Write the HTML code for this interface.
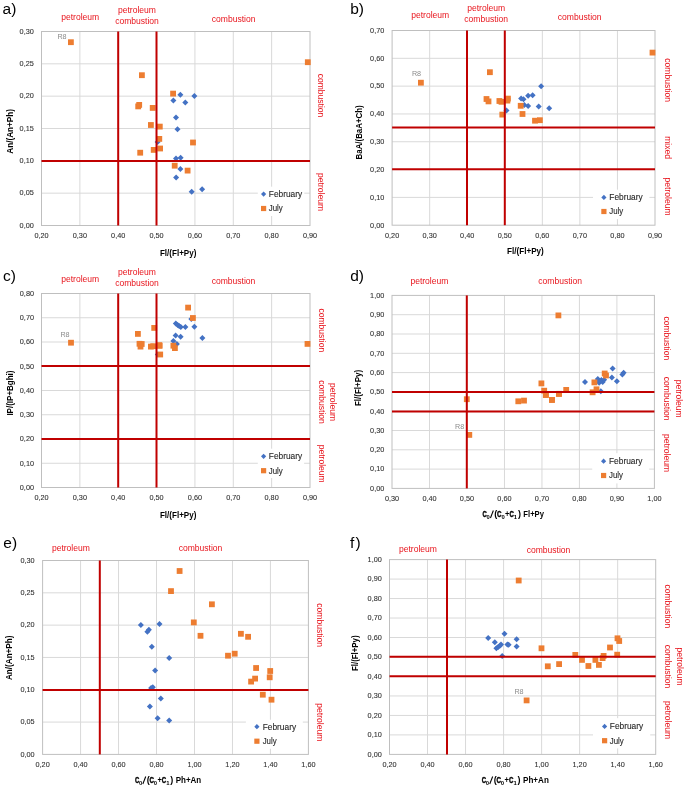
<!DOCTYPE html>
<html><head><meta charset="utf-8"><style>
html,body{margin:0;padding:0;background:#fff;width:685px;height:787px;overflow:hidden;}
svg{display:block;font-family:"Liberation Sans", sans-serif;will-change:transform;}
</style></head><body>
<svg width="685" height="787" viewBox="0 0 685 787">
<g stroke="#D9D9D9" stroke-width="1"><line x1="79.86" y1="31.5" x2="79.86" y2="225.5"/><line x1="118.21" y1="31.5" x2="118.21" y2="225.5"/><line x1="156.57" y1="31.5" x2="156.57" y2="225.5"/><line x1="194.93" y1="31.5" x2="194.93" y2="225.5"/><line x1="233.29" y1="31.5" x2="233.29" y2="225.5"/><line x1="271.64" y1="31.5" x2="271.64" y2="225.5"/><line x1="41.5" y1="193.17" x2="310.0" y2="193.17"/><line x1="41.5" y1="160.83" x2="310.0" y2="160.83"/><line x1="41.5" y1="128.50" x2="310.0" y2="128.50"/><line x1="41.5" y1="96.17" x2="310.0" y2="96.17"/><line x1="41.5" y1="63.83" x2="310.0" y2="63.83"/></g>
<rect x="41.5" y="31.5" width="268.50" height="194.00" fill="none" stroke="#BFBFBF" stroke-width="1"/>
<rect x="257.8" y="186.7" width="46.50" height="29.30" fill="#fff"/>
<path d="M180.40 91.80L183.40 94.80L180.40 97.80L177.40 94.80Z" fill="#4472C4"/><path d="M194.40 92.90L197.40 95.90L194.40 98.90L191.40 95.90Z" fill="#4472C4"/><path d="M173.40 97.60L176.40 100.60L173.40 103.60L170.40 100.60Z" fill="#4472C4"/><path d="M185.30 99.60L188.30 102.60L185.30 105.60L182.30 102.60Z" fill="#4472C4"/><path d="M176.00 114.50L179.00 117.50L176.00 120.50L173.00 117.50Z" fill="#4472C4"/><path d="M177.50 126.20L180.50 129.20L177.50 132.20L174.50 129.20Z" fill="#4472C4"/><path d="M157.60 139.00L160.60 142.00L157.60 145.00L154.60 142.00Z" fill="#4472C4"/><path d="M176.00 155.50L179.00 158.50L176.00 161.50L173.00 158.50Z" fill="#4472C4"/><path d="M180.60 154.80L183.60 157.80L180.60 160.80L177.60 157.80Z" fill="#4472C4"/><path d="M180.40 166.10L183.40 169.10L180.40 172.10L177.40 169.10Z" fill="#4472C4"/><path d="M176.10 174.60L179.10 177.60L176.10 180.60L173.10 177.60Z" fill="#4472C4"/><path d="M191.70 188.70L194.70 191.70L191.70 194.70L188.70 191.70Z" fill="#4472C4"/><path d="M202.10 186.20L205.10 189.20L202.10 192.20L199.10 189.20Z" fill="#4472C4"/>
<rect x="68.00" y="39.30" width="5.8" height="5.8" fill="#ED7D31"/><rect x="304.90" y="59.30" width="5.8" height="5.8" fill="#ED7D31"/><rect x="139.00" y="72.30" width="5.8" height="5.8" fill="#ED7D31"/><rect x="170.20" y="90.70" width="5.8" height="5.8" fill="#ED7D31"/><rect x="135.30" y="103.50" width="5.8" height="5.8" fill="#ED7D31"/><rect x="136.30" y="102.00" width="5.8" height="5.8" fill="#ED7D31"/><rect x="149.80" y="105.00" width="5.8" height="5.8" fill="#ED7D31"/><rect x="148.00" y="122.10" width="5.8" height="5.8" fill="#ED7D31"/><rect x="156.90" y="123.70" width="5.8" height="5.8" fill="#ED7D31"/><rect x="156.40" y="136.00" width="5.8" height="5.8" fill="#ED7D31"/><rect x="190.10" y="139.60" width="5.8" height="5.8" fill="#ED7D31"/><rect x="137.30" y="149.80" width="5.8" height="5.8" fill="#ED7D31"/><rect x="150.80" y="147.00" width="5.8" height="5.8" fill="#ED7D31"/><rect x="157.20" y="145.60" width="5.8" height="5.8" fill="#ED7D31"/><rect x="171.80" y="162.80" width="5.8" height="5.8" fill="#ED7D31"/><rect x="184.70" y="167.70" width="5.8" height="5.8" fill="#ED7D31"/>
<g stroke="#C00000" stroke-width="2"><line x1="118.2" y1="31.5" x2="118.2" y2="225.5"/><line x1="156.5" y1="31.5" x2="156.5" y2="225.5"/><line x1="41.5" y1="161.0" x2="310.0" y2="161.0"/></g>
<g font-size="8.0" fill="#303030" stroke="#303030" stroke-width="0.1"><text x="41.50" y="237.7" text-anchor="middle" textLength="14.2" lengthAdjust="spacingAndGlyphs">0,20</text><text x="79.86" y="237.7" text-anchor="middle" textLength="14.2" lengthAdjust="spacingAndGlyphs">0,30</text><text x="118.21" y="237.7" text-anchor="middle" textLength="14.2" lengthAdjust="spacingAndGlyphs">0,40</text><text x="156.57" y="237.7" text-anchor="middle" textLength="14.2" lengthAdjust="spacingAndGlyphs">0,50</text><text x="194.93" y="237.7" text-anchor="middle" textLength="14.2" lengthAdjust="spacingAndGlyphs">0,60</text><text x="233.29" y="237.7" text-anchor="middle" textLength="14.2" lengthAdjust="spacingAndGlyphs">0,70</text><text x="271.64" y="237.7" text-anchor="middle" textLength="14.2" lengthAdjust="spacingAndGlyphs">0,80</text><text x="310.00" y="237.7" text-anchor="middle" textLength="14.2" lengthAdjust="spacingAndGlyphs">0,90</text><text x="33.8" y="227.80" text-anchor="end" textLength="14.2" lengthAdjust="spacingAndGlyphs">0,00</text><text x="33.8" y="195.47" text-anchor="end" textLength="14.2" lengthAdjust="spacingAndGlyphs">0,05</text><text x="33.8" y="163.13" text-anchor="end" textLength="14.2" lengthAdjust="spacingAndGlyphs">0,10</text><text x="33.8" y="130.80" text-anchor="end" textLength="14.2" lengthAdjust="spacingAndGlyphs">0,15</text><text x="33.8" y="98.47" text-anchor="end" textLength="14.2" lengthAdjust="spacingAndGlyphs">0,20</text><text x="33.8" y="66.13" text-anchor="end" textLength="14.2" lengthAdjust="spacingAndGlyphs">0,25</text><text x="33.8" y="33.80" text-anchor="end" textLength="14.2" lengthAdjust="spacingAndGlyphs">0,30</text></g>
<path d="M263.60 191.50L266.20 194.10L263.60 196.70L261.00 194.10Z" fill="#4472C4"/><rect x="261.00" y="205.90" width="5.2" height="5.2" fill="#ED7D31"/>
<g font-size="8.8" fill="#262626" stroke="#262626" stroke-width="0.1"><text x="268.8" y="197.00" textLength="33.4" lengthAdjust="spacingAndGlyphs">February</text><text x="268.8" y="211.40" textLength="14.0" lengthAdjust="spacingAndGlyphs">July</text></g>
<text x="62.0" y="38.8" font-size="7.2" fill="#8c8c8c" text-anchor="middle">R8</text>
<text x="2.6" y="14.1" font-size="15.5" fill="#000">a)</text>
<text x="80.2" y="19.8" font-size="8.55" fill="#E8141C" text-anchor="middle">petroleum</text>
<text x="137.0" y="13.0" font-size="8.55" fill="#E8141C" text-anchor="middle">petroleum</text>
<text x="137.0" y="24.4" font-size="8.55" fill="#E8141C" text-anchor="middle">combustion</text>
<text x="233.6" y="21.5" font-size="8.55" fill="#E8141C" text-anchor="middle">combustion</text>
<text transform="translate(317.80,95.5) rotate(90)" font-size="8.55" fill="#E8141C" text-anchor="middle">combustion</text>
<text transform="translate(317.80,192.0) rotate(90)" font-size="8.55" fill="#E8141C" text-anchor="middle">petroleum</text>
<text transform="translate(12.90,131.35) rotate(-90)" font-size="9.0" font-weight="bold" fill="#000" text-anchor="middle" textLength="44.7" lengthAdjust="spacingAndGlyphs">An/(An+Ph)</text>
<text x="159.9" y="255.8" font-size="9.0" font-weight="bold" fill="#000" textLength="36.5" lengthAdjust="spacingAndGlyphs">Fl/(Fl+Py)</text>
<g stroke="#D9D9D9" stroke-width="1"><line x1="429.66" y1="30.5" x2="429.66" y2="225.2"/><line x1="467.21" y1="30.5" x2="467.21" y2="225.2"/><line x1="504.77" y1="30.5" x2="504.77" y2="225.2"/><line x1="542.33" y1="30.5" x2="542.33" y2="225.2"/><line x1="579.89" y1="30.5" x2="579.89" y2="225.2"/><line x1="617.44" y1="30.5" x2="617.44" y2="225.2"/><line x1="392.1" y1="197.39" x2="655.0" y2="197.39"/><line x1="392.1" y1="169.57" x2="655.0" y2="169.57"/><line x1="392.1" y1="141.76" x2="655.0" y2="141.76"/><line x1="392.1" y1="113.94" x2="655.0" y2="113.94"/><line x1="392.1" y1="86.13" x2="655.0" y2="86.13"/><line x1="392.1" y1="58.31" x2="655.0" y2="58.31"/></g>
<rect x="392.1" y="30.5" width="262.90" height="194.70" fill="none" stroke="#BFBFBF" stroke-width="1"/>
<rect x="593.0" y="189.7" width="56.40" height="29.30" fill="#fff"/>
<path d="M541.10 83.20L544.10 86.20L541.10 89.20L538.10 86.20Z" fill="#4472C4"/><path d="M528.10 92.70L531.10 95.70L528.10 98.70L525.10 95.70Z" fill="#4472C4"/><path d="M532.60 92.20L535.60 95.20L532.60 98.20L529.60 95.20Z" fill="#4472C4"/><path d="M521.10 95.50L524.10 98.50L521.10 101.50L518.10 98.50Z" fill="#4472C4"/><path d="M523.50 96.30L526.50 99.30L523.50 102.30L520.50 99.30Z" fill="#4472C4"/><path d="M524.30 102.00L527.30 105.00L524.30 108.00L521.30 105.00Z" fill="#4472C4"/><path d="M528.10 102.90L531.10 105.90L528.10 108.90L525.10 105.90Z" fill="#4472C4"/><path d="M538.70 103.60L541.70 106.60L538.70 109.60L535.70 106.60Z" fill="#4472C4"/><path d="M549.20 105.30L552.20 108.30L549.20 111.30L546.20 108.30Z" fill="#4472C4"/><path d="M506.50 107.40L509.50 110.40L506.50 113.40L503.50 110.40Z" fill="#4472C4"/>
<rect x="418.00" y="79.80" width="5.8" height="5.8" fill="#ED7D31"/><rect x="649.60" y="49.70" width="5.8" height="5.8" fill="#ED7D31"/><rect x="487.00" y="69.30" width="5.8" height="5.8" fill="#ED7D31"/><rect x="483.60" y="96.10" width="5.8" height="5.8" fill="#ED7D31"/><rect x="485.60" y="98.50" width="5.8" height="5.8" fill="#ED7D31"/><rect x="496.50" y="98.10" width="5.8" height="5.8" fill="#ED7D31"/><rect x="498.60" y="98.90" width="5.8" height="5.8" fill="#ED7D31"/><rect x="505.00" y="95.70" width="5.8" height="5.8" fill="#ED7D31"/><rect x="504.50" y="97.70" width="5.8" height="5.8" fill="#ED7D31"/><rect x="499.40" y="111.70" width="5.8" height="5.8" fill="#ED7D31"/><rect x="517.80" y="102.90" width="5.8" height="5.8" fill="#ED7D31"/><rect x="519.60" y="111.10" width="5.8" height="5.8" fill="#ED7D31"/><rect x="532.10" y="117.80" width="5.8" height="5.8" fill="#ED7D31"/><rect x="537.00" y="117.30" width="5.8" height="5.8" fill="#ED7D31"/>
<g stroke="#C00000" stroke-width="2"><line x1="467.0" y1="30.5" x2="467.0" y2="225.2"/><line x1="504.8" y1="30.5" x2="504.8" y2="225.2"/><line x1="392.1" y1="127.6" x2="655.0" y2="127.6"/><line x1="392.1" y1="169.2" x2="655.0" y2="169.2"/></g>
<g font-size="8.0" fill="#303030" stroke="#303030" stroke-width="0.1"><text x="392.10" y="237.7" text-anchor="middle" textLength="14.2" lengthAdjust="spacingAndGlyphs">0,20</text><text x="429.66" y="237.7" text-anchor="middle" textLength="14.2" lengthAdjust="spacingAndGlyphs">0,30</text><text x="467.21" y="237.7" text-anchor="middle" textLength="14.2" lengthAdjust="spacingAndGlyphs">0,40</text><text x="504.77" y="237.7" text-anchor="middle" textLength="14.2" lengthAdjust="spacingAndGlyphs">0,50</text><text x="542.33" y="237.7" text-anchor="middle" textLength="14.2" lengthAdjust="spacingAndGlyphs">0,60</text><text x="579.89" y="237.7" text-anchor="middle" textLength="14.2" lengthAdjust="spacingAndGlyphs">0,70</text><text x="617.44" y="237.7" text-anchor="middle" textLength="14.2" lengthAdjust="spacingAndGlyphs">0,80</text><text x="655.00" y="237.7" text-anchor="middle" textLength="14.2" lengthAdjust="spacingAndGlyphs">0,90</text><text x="384.3" y="227.50" text-anchor="end" textLength="14.2" lengthAdjust="spacingAndGlyphs">0,00</text><text x="384.3" y="199.69" text-anchor="end" textLength="14.2" lengthAdjust="spacingAndGlyphs">0,10</text><text x="384.3" y="171.87" text-anchor="end" textLength="14.2" lengthAdjust="spacingAndGlyphs">0,20</text><text x="384.3" y="144.06" text-anchor="end" textLength="14.2" lengthAdjust="spacingAndGlyphs">0,30</text><text x="384.3" y="116.24" text-anchor="end" textLength="14.2" lengthAdjust="spacingAndGlyphs">0,40</text><text x="384.3" y="88.43" text-anchor="end" textLength="14.2" lengthAdjust="spacingAndGlyphs">0,50</text><text x="384.3" y="60.61" text-anchor="end" textLength="14.2" lengthAdjust="spacingAndGlyphs">0,60</text><text x="384.3" y="32.80" text-anchor="end" textLength="14.2" lengthAdjust="spacingAndGlyphs">0,70</text></g>
<path d="M603.90 194.80L606.50 197.40L603.90 200.00L601.30 197.40Z" fill="#4472C4"/><rect x="601.30" y="208.90" width="5.2" height="5.2" fill="#ED7D31"/>
<g font-size="8.8" fill="#262626" stroke="#262626" stroke-width="0.1"><text x="609.3" y="200.30" textLength="33.4" lengthAdjust="spacingAndGlyphs">February</text><text x="609.3" y="214.40" textLength="14.0" lengthAdjust="spacingAndGlyphs">July</text></g>
<text x="416.5" y="75.6" font-size="7.2" fill="#8c8c8c" text-anchor="middle">R8</text>
<text x="350.2" y="14.3" font-size="15.5" fill="#000">b)</text>
<text x="430.2" y="18.4" font-size="8.55" fill="#E8141C" text-anchor="middle">petroleum</text>
<text x="486.2" y="11.4" font-size="8.55" fill="#E8141C" text-anchor="middle">petroleum</text>
<text x="486.2" y="21.8" font-size="8.55" fill="#E8141C" text-anchor="middle">combustion</text>
<text x="579.7" y="20.4" font-size="8.55" fill="#E8141C" text-anchor="middle">combustion</text>
<text transform="translate(664.70,80.2) rotate(90)" font-size="8.55" fill="#E8141C" text-anchor="middle">combustion</text>
<text transform="translate(664.70,147.6) rotate(90)" font-size="8.55" fill="#E8141C" text-anchor="middle">mixed</text>
<text transform="translate(664.70,196.6) rotate(90)" font-size="8.55" fill="#E8141C" text-anchor="middle">petroleum</text>
<text transform="translate(361.60,132.40) rotate(-90)" font-size="9.0" font-weight="bold" fill="#000" text-anchor="middle" textLength="54.0" lengthAdjust="spacingAndGlyphs">BaA/(BaA+Ch)</text>
<text x="507.0" y="254.2" font-size="9.0" font-weight="bold" fill="#000" textLength="36.8" lengthAdjust="spacingAndGlyphs">Fl/(Fl+Py)</text>
<g stroke="#D9D9D9" stroke-width="1"><line x1="79.86" y1="293.5" x2="79.86" y2="487.5"/><line x1="118.21" y1="293.5" x2="118.21" y2="487.5"/><line x1="156.57" y1="293.5" x2="156.57" y2="487.5"/><line x1="194.93" y1="293.5" x2="194.93" y2="487.5"/><line x1="233.29" y1="293.5" x2="233.29" y2="487.5"/><line x1="271.64" y1="293.5" x2="271.64" y2="487.5"/><line x1="41.5" y1="463.25" x2="310.0" y2="463.25"/><line x1="41.5" y1="439.00" x2="310.0" y2="439.00"/><line x1="41.5" y1="414.75" x2="310.0" y2="414.75"/><line x1="41.5" y1="390.50" x2="310.0" y2="390.50"/><line x1="41.5" y1="366.25" x2="310.0" y2="366.25"/><line x1="41.5" y1="342.00" x2="310.0" y2="342.00"/><line x1="41.5" y1="317.75" x2="310.0" y2="317.75"/></g>
<rect x="41.5" y="293.5" width="268.50" height="194.00" fill="none" stroke="#BFBFBF" stroke-width="1"/>
<rect x="257.8" y="448.7" width="46.30" height="29.30" fill="#fff"/>
<path d="M175.80 320.40L178.80 323.40L175.80 326.40L172.80 323.40Z" fill="#4472C4"/><path d="M177.60 322.00L180.60 325.00L177.60 328.00L174.60 325.00Z" fill="#4472C4"/><path d="M179.10 322.90L182.10 325.90L179.10 328.90L176.10 325.90Z" fill="#4472C4"/><path d="M180.80 323.90L183.80 326.90L180.80 329.90L177.80 326.90Z" fill="#4472C4"/><path d="M185.40 324.10L188.40 327.10L185.40 330.10L182.40 327.10Z" fill="#4472C4"/><path d="M194.40 323.70L197.40 326.70L194.40 329.70L191.40 326.70Z" fill="#4472C4"/><path d="M191.30 316.00L194.30 319.00L191.30 322.00L188.30 319.00Z" fill="#4472C4"/><path d="M175.60 332.60L178.60 335.60L175.60 338.60L172.60 335.60Z" fill="#4472C4"/><path d="M180.60 333.70L183.60 336.70L180.60 339.70L177.60 336.70Z" fill="#4472C4"/><path d="M202.40 335.00L205.40 338.00L202.40 341.00L199.40 338.00Z" fill="#4472C4"/><path d="M173.40 338.10L176.40 341.10L173.40 344.10L170.40 341.10Z" fill="#4472C4"/><path d="M176.90 341.00L179.90 344.00L176.90 347.00L173.90 344.00Z" fill="#4472C4"/><path d="M157.80 351.40L160.80 354.40L157.80 357.40L154.80 354.40Z" fill="#4472C4"/>
<rect x="68.10" y="339.80" width="5.8" height="5.8" fill="#ED7D31"/><rect x="304.60" y="341.00" width="5.8" height="5.8" fill="#ED7D31"/><rect x="185.20" y="304.70" width="5.8" height="5.8" fill="#ED7D31"/><rect x="190.00" y="315.10" width="5.8" height="5.8" fill="#ED7D31"/><rect x="151.30" y="325.00" width="5.8" height="5.8" fill="#ED7D31"/><rect x="135.00" y="331.00" width="5.8" height="5.8" fill="#ED7D31"/><rect x="136.60" y="340.90" width="5.8" height="5.8" fill="#ED7D31"/><rect x="138.80" y="341.10" width="5.8" height="5.8" fill="#ED7D31"/><rect x="137.60" y="343.70" width="5.8" height="5.8" fill="#ED7D31"/><rect x="148.00" y="343.70" width="5.8" height="5.8" fill="#ED7D31"/><rect x="150.30" y="343.30" width="5.8" height="5.8" fill="#ED7D31"/><rect x="156.50" y="342.20" width="5.8" height="5.8" fill="#ED7D31"/><rect x="156.70" y="343.00" width="5.8" height="5.8" fill="#ED7D31"/><rect x="157.30" y="351.60" width="5.8" height="5.8" fill="#ED7D31"/><rect x="170.50" y="342.80" width="5.8" height="5.8" fill="#ED7D31"/><rect x="172.00" y="345.20" width="5.8" height="5.8" fill="#ED7D31"/>
<g stroke="#C00000" stroke-width="2"><line x1="118.2" y1="293.5" x2="118.2" y2="487.5"/><line x1="156.5" y1="293.5" x2="156.5" y2="487.5"/><line x1="41.5" y1="366.1" x2="310.0" y2="366.1"/><line x1="41.5" y1="439.0" x2="310.0" y2="439.0"/></g>
<g font-size="8.0" fill="#303030" stroke="#303030" stroke-width="0.1"><text x="41.50" y="500.0" text-anchor="middle" textLength="14.2" lengthAdjust="spacingAndGlyphs">0,20</text><text x="79.86" y="500.0" text-anchor="middle" textLength="14.2" lengthAdjust="spacingAndGlyphs">0,30</text><text x="118.21" y="500.0" text-anchor="middle" textLength="14.2" lengthAdjust="spacingAndGlyphs">0,40</text><text x="156.57" y="500.0" text-anchor="middle" textLength="14.2" lengthAdjust="spacingAndGlyphs">0,50</text><text x="194.93" y="500.0" text-anchor="middle" textLength="14.2" lengthAdjust="spacingAndGlyphs">0,60</text><text x="233.29" y="500.0" text-anchor="middle" textLength="14.2" lengthAdjust="spacingAndGlyphs">0,70</text><text x="271.64" y="500.0" text-anchor="middle" textLength="14.2" lengthAdjust="spacingAndGlyphs">0,80</text><text x="310.00" y="500.0" text-anchor="middle" textLength="14.2" lengthAdjust="spacingAndGlyphs">0,90</text><text x="34.0" y="489.80" text-anchor="end" textLength="14.2" lengthAdjust="spacingAndGlyphs">0,00</text><text x="34.0" y="465.55" text-anchor="end" textLength="14.2" lengthAdjust="spacingAndGlyphs">0,10</text><text x="34.0" y="441.30" text-anchor="end" textLength="14.2" lengthAdjust="spacingAndGlyphs">0,20</text><text x="34.0" y="417.05" text-anchor="end" textLength="14.2" lengthAdjust="spacingAndGlyphs">0,30</text><text x="34.0" y="392.80" text-anchor="end" textLength="14.2" lengthAdjust="spacingAndGlyphs">0,40</text><text x="34.0" y="368.55" text-anchor="end" textLength="14.2" lengthAdjust="spacingAndGlyphs">0,50</text><text x="34.0" y="344.30" text-anchor="end" textLength="14.2" lengthAdjust="spacingAndGlyphs">0,60</text><text x="34.0" y="320.05" text-anchor="end" textLength="14.2" lengthAdjust="spacingAndGlyphs">0,70</text><text x="34.0" y="295.80" text-anchor="end" textLength="14.2" lengthAdjust="spacingAndGlyphs">0,80</text></g>
<path d="M263.60 453.70L266.20 456.30L263.60 458.90L261.00 456.30Z" fill="#4472C4"/><rect x="261.00" y="468.10" width="5.2" height="5.2" fill="#ED7D31"/>
<g font-size="8.8" fill="#262626" stroke="#262626" stroke-width="0.1"><text x="268.8" y="459.20" textLength="33.4" lengthAdjust="spacingAndGlyphs">February</text><text x="268.8" y="473.60" textLength="14.0" lengthAdjust="spacingAndGlyphs">July</text></g>
<text x="65.0" y="337.0" font-size="7.2" fill="#8c8c8c" text-anchor="middle">R8</text>
<text x="2.9" y="281.0" font-size="15.5" fill="#000">c)</text>
<text x="80.2" y="282.2" font-size="8.55" fill="#E8141C" text-anchor="middle">petroleum</text>
<text x="137.0" y="274.9" font-size="8.55" fill="#E8141C" text-anchor="middle">petroleum</text>
<text x="137.0" y="285.6" font-size="8.55" fill="#E8141C" text-anchor="middle">combustion</text>
<text x="233.5" y="283.6" font-size="8.55" fill="#E8141C" text-anchor="middle">combustion</text>
<text transform="translate(318.50,330.3) rotate(90)" font-size="8.55" fill="#E8141C" text-anchor="middle">combustion</text>
<text transform="translate(330.00,402.0) rotate(90)" font-size="8.55" fill="#E8141C" text-anchor="middle">petroleum</text>
<text transform="translate(318.60,402.0) rotate(90)" font-size="8.55" fill="#E8141C" text-anchor="middle">combustion</text>
<text transform="translate(318.50,463.7) rotate(90)" font-size="8.55" fill="#E8141C" text-anchor="middle">petroleum</text>
<text transform="translate(13.10,393.05) rotate(-90)" font-size="9.0" font-weight="bold" fill="#000" text-anchor="middle" textLength="45.1" lengthAdjust="spacingAndGlyphs">IP/(IP+Bghi)</text>
<text x="159.9" y="518.0" font-size="9.0" font-weight="bold" fill="#000" textLength="36.5" lengthAdjust="spacingAndGlyphs">Fl/(Fl+Py)</text>
<g stroke="#D9D9D9" stroke-width="1"><line x1="429.49" y1="295.4" x2="429.49" y2="488.4"/><line x1="466.97" y1="295.4" x2="466.97" y2="488.4"/><line x1="504.46" y1="295.4" x2="504.46" y2="488.4"/><line x1="541.94" y1="295.4" x2="541.94" y2="488.4"/><line x1="579.43" y1="295.4" x2="579.43" y2="488.4"/><line x1="616.91" y1="295.4" x2="616.91" y2="488.4"/><line x1="392.0" y1="469.10" x2="654.4" y2="469.10"/><line x1="392.0" y1="449.80" x2="654.4" y2="449.80"/><line x1="392.0" y1="430.50" x2="654.4" y2="430.50"/><line x1="392.0" y1="411.20" x2="654.4" y2="411.20"/><line x1="392.0" y1="391.90" x2="654.4" y2="391.90"/><line x1="392.0" y1="372.60" x2="654.4" y2="372.60"/><line x1="392.0" y1="353.30" x2="654.4" y2="353.30"/><line x1="392.0" y1="334.00" x2="654.4" y2="334.00"/><line x1="392.0" y1="314.70" x2="654.4" y2="314.70"/></g>
<rect x="392.0" y="295.4" width="262.40" height="193.00" fill="none" stroke="#BFBFBF" stroke-width="1"/>
<rect x="592.2" y="453.2" width="57.00" height="30.20" fill="#fff"/>
<path d="M612.60 365.60L615.60 368.60L612.60 371.60L609.60 368.60Z" fill="#4472C4"/><path d="M611.90 374.50L614.90 377.50L611.90 380.50L608.90 377.50Z" fill="#4472C4"/><path d="M616.90 378.20L619.90 381.20L616.90 384.20L613.90 381.20Z" fill="#4472C4"/><path d="M622.40 371.40L625.40 374.40L622.40 377.40L619.40 374.40Z" fill="#4472C4"/><path d="M623.60 369.70L626.60 372.70L623.60 375.70L620.60 372.70Z" fill="#4472C4"/><path d="M585.00 378.90L588.00 381.90L585.00 384.90L582.00 381.90Z" fill="#4472C4"/><path d="M597.80 376.10L600.80 379.10L597.80 382.10L594.80 379.10Z" fill="#4472C4"/><path d="M599.10 379.70L602.10 382.70L599.10 385.70L596.10 382.70Z" fill="#4472C4"/><path d="M601.40 377.10L604.40 380.10L601.40 383.10L598.40 380.10Z" fill="#4472C4"/><path d="M602.70 379.10L605.70 382.10L602.70 385.10L599.70 382.10Z" fill="#4472C4"/><path d="M604.10 376.80L607.10 379.80L604.10 382.80L601.10 379.80Z" fill="#4472C4"/><path d="M599.80 378.40L602.80 381.40L599.80 384.40L596.80 381.40Z" fill="#4472C4"/><path d="M600.80 388.30L603.80 391.30L600.80 394.30L597.80 391.30Z" fill="#4472C4"/>
<rect x="555.50" y="312.50" width="5.8" height="5.8" fill="#ED7D31"/><rect x="538.50" y="380.50" width="5.8" height="5.8" fill="#ED7D31"/><rect x="541.30" y="387.80" width="5.8" height="5.8" fill="#ED7D31"/><rect x="542.90" y="392.10" width="5.8" height="5.8" fill="#ED7D31"/><rect x="549.00" y="397.00" width="5.8" height="5.8" fill="#ED7D31"/><rect x="556.00" y="391.00" width="5.8" height="5.8" fill="#ED7D31"/><rect x="563.30" y="387.00" width="5.8" height="5.8" fill="#ED7D31"/><rect x="589.70" y="389.40" width="5.8" height="5.8" fill="#ED7D31"/><rect x="591.50" y="379.50" width="5.8" height="5.8" fill="#ED7D31"/><rect x="593.60" y="386.40" width="5.8" height="5.8" fill="#ED7D31"/><rect x="601.80" y="370.60" width="5.8" height="5.8" fill="#ED7D31"/><rect x="603.10" y="372.60" width="5.8" height="5.8" fill="#ED7D31"/><rect x="463.90" y="396.30" width="5.8" height="5.8" fill="#ED7D31"/><rect x="466.40" y="432.00" width="5.8" height="5.8" fill="#ED7D31"/><rect x="515.40" y="398.40" width="5.8" height="5.8" fill="#ED7D31"/><rect x="521.10" y="397.70" width="5.8" height="5.8" fill="#ED7D31"/><rect x="543.00" y="392.00" width="5.8" height="5.8" fill="#ED7D31"/><rect x="549.10" y="397.00" width="5.8" height="5.8" fill="#ED7D31"/><rect x="556.20" y="390.90" width="5.8" height="5.8" fill="#ED7D31"/>
<g stroke="#C00000" stroke-width="2"><line x1="466.8" y1="295.4" x2="466.8" y2="488.4"/><line x1="392.0" y1="391.9" x2="654.4" y2="391.9"/><line x1="392.0" y1="411.5" x2="654.4" y2="411.5"/></g>
<g font-size="8.0" fill="#303030" stroke="#303030" stroke-width="0.1"><text x="392.00" y="501.4" text-anchor="middle" textLength="14.2" lengthAdjust="spacingAndGlyphs">0,30</text><text x="429.49" y="501.4" text-anchor="middle" textLength="14.2" lengthAdjust="spacingAndGlyphs">0,40</text><text x="466.97" y="501.4" text-anchor="middle" textLength="14.2" lengthAdjust="spacingAndGlyphs">0,50</text><text x="504.46" y="501.4" text-anchor="middle" textLength="14.2" lengthAdjust="spacingAndGlyphs">0,60</text><text x="541.94" y="501.4" text-anchor="middle" textLength="14.2" lengthAdjust="spacingAndGlyphs">0,70</text><text x="579.43" y="501.4" text-anchor="middle" textLength="14.2" lengthAdjust="spacingAndGlyphs">0,80</text><text x="616.91" y="501.4" text-anchor="middle" textLength="14.2" lengthAdjust="spacingAndGlyphs">0,90</text><text x="654.40" y="501.4" text-anchor="middle" textLength="14.2" lengthAdjust="spacingAndGlyphs">1,00</text><text x="384.3" y="490.70" text-anchor="end" textLength="14.2" lengthAdjust="spacingAndGlyphs">0,00</text><text x="384.3" y="471.40" text-anchor="end" textLength="14.2" lengthAdjust="spacingAndGlyphs">0,10</text><text x="384.3" y="452.10" text-anchor="end" textLength="14.2" lengthAdjust="spacingAndGlyphs">0,20</text><text x="384.3" y="432.80" text-anchor="end" textLength="14.2" lengthAdjust="spacingAndGlyphs">0,30</text><text x="384.3" y="413.50" text-anchor="end" textLength="14.2" lengthAdjust="spacingAndGlyphs">0,40</text><text x="384.3" y="394.20" text-anchor="end" textLength="14.2" lengthAdjust="spacingAndGlyphs">0,50</text><text x="384.3" y="374.90" text-anchor="end" textLength="14.2" lengthAdjust="spacingAndGlyphs">0,60</text><text x="384.3" y="355.60" text-anchor="end" textLength="14.2" lengthAdjust="spacingAndGlyphs">0,70</text><text x="384.3" y="336.30" text-anchor="end" textLength="14.2" lengthAdjust="spacingAndGlyphs">0,80</text><text x="384.3" y="317.00" text-anchor="end" textLength="14.2" lengthAdjust="spacingAndGlyphs">0,90</text><text x="384.3" y="297.70" text-anchor="end" textLength="14.2" lengthAdjust="spacingAndGlyphs">1,00</text></g>
<path d="M603.60 458.60L606.20 461.20L603.60 463.80L601.00 461.20Z" fill="#4472C4"/><rect x="601.00" y="472.90" width="5.2" height="5.2" fill="#ED7D31"/>
<g font-size="8.8" fill="#262626" stroke="#262626" stroke-width="0.1"><text x="609.0" y="464.10" textLength="33.4" lengthAdjust="spacingAndGlyphs">February</text><text x="609.0" y="478.40" textLength="14.0" lengthAdjust="spacingAndGlyphs">July</text></g>
<text x="459.7" y="429.0" font-size="7.2" fill="#8c8c8c" text-anchor="middle">R8</text>
<text x="350.2" y="281.0" font-size="15.5" fill="#000">d)</text>
<text x="429.4" y="283.8" font-size="8.55" fill="#E8141C" text-anchor="middle">petroleum</text>
<text x="560.1" y="284.2" font-size="8.55" fill="#E8141C" text-anchor="middle">combustion</text>
<text transform="translate(664.40,338.3) rotate(90)" font-size="8.55" fill="#E8141C" text-anchor="middle">combustion</text>
<text transform="translate(675.80,398.7) rotate(90)" font-size="8.55" fill="#E8141C" text-anchor="middle">petroleum</text>
<text transform="translate(664.40,398.7) rotate(90)" font-size="8.55" fill="#E8141C" text-anchor="middle">combustion</text>
<text transform="translate(664.40,453.0) rotate(90)" font-size="8.55" fill="#E8141C" text-anchor="middle">petroleum</text>
<text transform="translate(361.40,388.00) rotate(-90)" font-size="9.0" font-weight="bold" fill="#000" text-anchor="middle" textLength="36.2" lengthAdjust="spacingAndGlyphs">Fl/(Fl+Py)</text>
<g font-size="9.0" font-weight="bold" fill="#000"><text x="482.55" y="516.7" textLength="4.30" lengthAdjust="spacingAndGlyphs" stroke="#000" stroke-width="0.45">C</text><text x="486.50" y="518.60" font-size="5.6" textLength="3.25" lengthAdjust="spacingAndGlyphs">0</text><line x1="490.45" y1="518.00" x2="493.35" y2="510.50" stroke="#000" stroke-width="1.05"/><text x="495.80" y="516.7" text-anchor="middle">(</text><text x="497.05" y="516.7" textLength="4.50" lengthAdjust="spacingAndGlyphs" stroke="#000" stroke-width="0.45">C</text><text x="501.45" y="518.60" font-size="5.6" textLength="3.30" lengthAdjust="spacingAndGlyphs">0</text><text x="505.05" y="516.7" textLength="4.40" lengthAdjust="spacingAndGlyphs">+</text><text x="509.45" y="516.7" textLength="4.40" lengthAdjust="spacingAndGlyphs" stroke="#000" stroke-width="0.45">C</text><text x="513.85" y="518.60" font-size="5.6" textLength="3.30" lengthAdjust="spacingAndGlyphs">1</text><text x="519.40" y="516.7" text-anchor="middle">)</text><text x="523.35" y="516.7" textLength="20.60" lengthAdjust="spacingAndGlyphs">Fl+Py</text></g>
<g stroke="#D9D9D9" stroke-width="1"><line x1="80.57" y1="560.5" x2="80.57" y2="754.4"/><line x1="118.54" y1="560.5" x2="118.54" y2="754.4"/><line x1="156.51" y1="560.5" x2="156.51" y2="754.4"/><line x1="194.49" y1="560.5" x2="194.49" y2="754.4"/><line x1="232.46" y1="560.5" x2="232.46" y2="754.4"/><line x1="270.43" y1="560.5" x2="270.43" y2="754.4"/><line x1="42.6" y1="722.08" x2="308.4" y2="722.08"/><line x1="42.6" y1="689.77" x2="308.4" y2="689.77"/><line x1="42.6" y1="657.45" x2="308.4" y2="657.45"/><line x1="42.6" y1="625.13" x2="308.4" y2="625.13"/><line x1="42.6" y1="592.82" x2="308.4" y2="592.82"/></g>
<rect x="42.6" y="560.5" width="265.80" height="193.90" fill="none" stroke="#BFBFBF" stroke-width="1"/>
<rect x="245.9" y="719.7" width="56.90" height="29.10" fill="#fff"/>
<path d="M140.90 622.10L143.90 625.10L140.90 628.10L137.90 625.10Z" fill="#4472C4"/><path d="M159.50 621.10L162.50 624.10L159.50 627.10L156.50 624.10Z" fill="#4472C4"/><path d="M148.90 626.80L151.90 629.80L148.90 632.80L145.90 629.80Z" fill="#4472C4"/><path d="M147.40 628.80L150.40 631.80L147.40 634.80L144.40 631.80Z" fill="#4472C4"/><path d="M151.80 643.70L154.80 646.70L151.80 649.70L148.80 646.70Z" fill="#4472C4"/><path d="M169.20 655.10L172.20 658.10L169.20 661.10L166.20 658.10Z" fill="#4472C4"/><path d="M155.10 667.40L158.10 670.40L155.10 673.40L152.10 670.40Z" fill="#4472C4"/><path d="M152.80 684.30L155.80 687.30L152.80 690.30L149.80 687.30Z" fill="#4472C4"/><path d="M151.10 685.00L154.10 688.00L151.10 691.00L148.10 688.00Z" fill="#4472C4"/><path d="M160.80 695.40L163.80 698.40L160.80 701.40L157.80 698.40Z" fill="#4472C4"/><path d="M149.90 703.60L152.90 706.60L149.90 709.60L146.90 706.60Z" fill="#4472C4"/><path d="M157.60 715.30L160.60 718.30L157.60 721.30L154.60 718.30Z" fill="#4472C4"/><path d="M169.20 717.50L172.20 720.50L169.20 723.50L166.20 720.50Z" fill="#4472C4"/>
<rect x="176.70" y="568.10" width="5.8" height="5.8" fill="#ED7D31"/><rect x="168.10" y="588.20" width="5.8" height="5.8" fill="#ED7D31"/><rect x="209.00" y="601.40" width="5.8" height="5.8" fill="#ED7D31"/><rect x="190.90" y="619.50" width="5.8" height="5.8" fill="#ED7D31"/><rect x="197.60" y="632.90" width="5.8" height="5.8" fill="#ED7D31"/><rect x="238.00" y="630.90" width="5.8" height="5.8" fill="#ED7D31"/><rect x="245.20" y="633.90" width="5.8" height="5.8" fill="#ED7D31"/><rect x="225.10" y="652.80" width="5.8" height="5.8" fill="#ED7D31"/><rect x="231.80" y="650.80" width="5.8" height="5.8" fill="#ED7D31"/><rect x="253.20" y="665.10" width="5.8" height="5.8" fill="#ED7D31"/><rect x="267.30" y="668.10" width="5.8" height="5.8" fill="#ED7D31"/><rect x="266.80" y="674.40" width="5.8" height="5.8" fill="#ED7D31"/><rect x="252.20" y="675.70" width="5.8" height="5.8" fill="#ED7D31"/><rect x="248.20" y="678.70" width="5.8" height="5.8" fill="#ED7D31"/><rect x="259.90" y="691.80" width="5.8" height="5.8" fill="#ED7D31"/><rect x="268.60" y="696.80" width="5.8" height="5.8" fill="#ED7D31"/>
<g stroke="#C00000" stroke-width="2"><line x1="99.8" y1="560.5" x2="99.8" y2="754.4"/><line x1="42.6" y1="690.0" x2="308.4" y2="690.0"/></g>
<g font-size="8.0" fill="#303030" stroke="#303030" stroke-width="0.1"><text x="42.60" y="767.0" text-anchor="middle" textLength="14.2" lengthAdjust="spacingAndGlyphs">0,20</text><text x="80.57" y="767.0" text-anchor="middle" textLength="14.2" lengthAdjust="spacingAndGlyphs">0,40</text><text x="118.54" y="767.0" text-anchor="middle" textLength="14.2" lengthAdjust="spacingAndGlyphs">0,60</text><text x="156.51" y="767.0" text-anchor="middle" textLength="14.2" lengthAdjust="spacingAndGlyphs">0,80</text><text x="194.49" y="767.0" text-anchor="middle" textLength="14.2" lengthAdjust="spacingAndGlyphs">1,00</text><text x="232.46" y="767.0" text-anchor="middle" textLength="14.2" lengthAdjust="spacingAndGlyphs">1,20</text><text x="270.43" y="767.0" text-anchor="middle" textLength="14.2" lengthAdjust="spacingAndGlyphs">1,40</text><text x="308.40" y="767.0" text-anchor="middle" textLength="14.2" lengthAdjust="spacingAndGlyphs">1,60</text><text x="34.6" y="756.70" text-anchor="end" textLength="14.2" lengthAdjust="spacingAndGlyphs">0,00</text><text x="34.6" y="724.38" text-anchor="end" textLength="14.2" lengthAdjust="spacingAndGlyphs">0,05</text><text x="34.6" y="692.07" text-anchor="end" textLength="14.2" lengthAdjust="spacingAndGlyphs">0,10</text><text x="34.6" y="659.75" text-anchor="end" textLength="14.2" lengthAdjust="spacingAndGlyphs">0,15</text><text x="34.6" y="627.43" text-anchor="end" textLength="14.2" lengthAdjust="spacingAndGlyphs">0,20</text><text x="34.6" y="595.12" text-anchor="end" textLength="14.2" lengthAdjust="spacingAndGlyphs">0,25</text><text x="34.6" y="562.80" text-anchor="end" textLength="14.2" lengthAdjust="spacingAndGlyphs">0,30</text></g>
<path d="M256.90 724.10L259.50 726.70L256.90 729.30L254.30 726.70Z" fill="#4472C4"/><rect x="254.30" y="738.60" width="5.2" height="5.2" fill="#ED7D31"/>
<g font-size="8.8" fill="#262626" stroke="#262626" stroke-width="0.1"><text x="262.7" y="729.60" textLength="33.4" lengthAdjust="spacingAndGlyphs">February</text><text x="262.7" y="744.10" textLength="14.0" lengthAdjust="spacingAndGlyphs">July</text></g>
<text x="3.3" y="548.0" font-size="15.5" fill="#000">e)</text>
<text x="70.9" y="550.5" font-size="8.55" fill="#E8141C" text-anchor="middle">petroleum</text>
<text x="200.5" y="551.3" font-size="8.55" fill="#E8141C" text-anchor="middle">combustion</text>
<text transform="translate(317.40,625.2) rotate(90)" font-size="8.55" fill="#E8141C" text-anchor="middle">combustion</text>
<text transform="translate(317.40,722.3) rotate(90)" font-size="8.55" fill="#E8141C" text-anchor="middle">petroleum</text>
<text transform="translate(12.10,657.80) rotate(-90)" font-size="9.0" font-weight="bold" fill="#000" text-anchor="middle" textLength="44.4" lengthAdjust="spacingAndGlyphs">An/(An+Ph)</text>
<g font-size="9.0" font-weight="bold" fill="#000"><text x="134.95" y="782.7" textLength="4.30" lengthAdjust="spacingAndGlyphs" stroke="#000" stroke-width="0.45">C</text><text x="138.90" y="784.60" font-size="5.6" textLength="3.25" lengthAdjust="spacingAndGlyphs">0</text><line x1="142.85" y1="784.00" x2="145.75" y2="776.50" stroke="#000" stroke-width="1.05"/><text x="148.20" y="782.7" text-anchor="middle">(</text><text x="149.45" y="782.7" textLength="4.50" lengthAdjust="spacingAndGlyphs" stroke="#000" stroke-width="0.45">C</text><text x="153.85" y="784.60" font-size="5.6" textLength="3.30" lengthAdjust="spacingAndGlyphs">0</text><text x="157.45" y="782.7" textLength="4.40" lengthAdjust="spacingAndGlyphs">+</text><text x="161.85" y="782.7" textLength="4.40" lengthAdjust="spacingAndGlyphs" stroke="#000" stroke-width="0.45">C</text><text x="166.25" y="784.60" font-size="5.6" textLength="3.30" lengthAdjust="spacingAndGlyphs">1</text><text x="171.80" y="782.7" text-anchor="middle">)</text><text x="175.75" y="782.7" textLength="25.50" lengthAdjust="spacingAndGlyphs">Ph+An</text></g>
<g stroke="#D9D9D9" stroke-width="1"><line x1="427.53" y1="559.6" x2="427.53" y2="754.4"/><line x1="465.56" y1="559.6" x2="465.56" y2="754.4"/><line x1="503.59" y1="559.6" x2="503.59" y2="754.4"/><line x1="541.61" y1="559.6" x2="541.61" y2="754.4"/><line x1="579.64" y1="559.6" x2="579.64" y2="754.4"/><line x1="617.67" y1="559.6" x2="617.67" y2="754.4"/><line x1="389.5" y1="734.92" x2="655.7" y2="734.92"/><line x1="389.5" y1="715.44" x2="655.7" y2="715.44"/><line x1="389.5" y1="695.96" x2="655.7" y2="695.96"/><line x1="389.5" y1="676.48" x2="655.7" y2="676.48"/><line x1="389.5" y1="657.00" x2="655.7" y2="657.00"/><line x1="389.5" y1="637.52" x2="655.7" y2="637.52"/><line x1="389.5" y1="618.04" x2="655.7" y2="618.04"/><line x1="389.5" y1="598.56" x2="655.7" y2="598.56"/><line x1="389.5" y1="579.08" x2="655.7" y2="579.08"/></g>
<rect x="389.5" y="559.6" width="266.20" height="194.80" fill="none" stroke="#BFBFBF" stroke-width="1"/>
<rect x="593.0" y="718.2" width="57.20" height="30.20" fill="#fff"/>
<path d="M488.20 634.90L491.20 637.90L488.20 640.90L485.20 637.90Z" fill="#4472C4"/><path d="M504.50 630.80L507.50 633.80L504.50 636.80L501.50 633.80Z" fill="#4472C4"/><path d="M494.80 639.20L497.80 642.20L494.80 645.20L491.80 642.20Z" fill="#4472C4"/><path d="M516.60 636.30L519.60 639.30L516.60 642.30L513.60 639.30Z" fill="#4472C4"/><path d="M516.60 643.50L519.60 646.50L516.60 649.50L513.60 646.50Z" fill="#4472C4"/><path d="M507.40 641.50L510.40 644.50L507.40 647.50L504.40 644.50Z" fill="#4472C4"/><path d="M508.60 641.80L511.60 644.80L508.60 647.80L505.60 644.80Z" fill="#4472C4"/><path d="M496.40 645.30L499.40 648.30L496.40 651.30L493.40 648.30Z" fill="#4472C4"/><path d="M498.10 644.10L501.10 647.10L498.10 650.10L495.10 647.10Z" fill="#4472C4"/><path d="M499.90 642.70L502.90 645.70L499.90 648.70L496.90 645.70Z" fill="#4472C4"/><path d="M501.00 641.50L504.00 644.50L501.00 647.50L498.00 644.50Z" fill="#4472C4"/><path d="M502.20 652.90L505.20 655.90L502.20 658.90L499.20 655.90Z" fill="#4472C4"/>
<rect x="515.80" y="577.60" width="5.8" height="5.8" fill="#ED7D31"/><rect x="538.60" y="645.40" width="5.8" height="5.8" fill="#ED7D31"/><rect x="544.90" y="663.40" width="5.8" height="5.8" fill="#ED7D31"/><rect x="556.20" y="661.20" width="5.8" height="5.8" fill="#ED7D31"/><rect x="572.40" y="652.00" width="5.8" height="5.8" fill="#ED7D31"/><rect x="579.10" y="657.00" width="5.8" height="5.8" fill="#ED7D31"/><rect x="585.50" y="663.10" width="5.8" height="5.8" fill="#ED7D31"/><rect x="592.50" y="657.00" width="5.8" height="5.8" fill="#ED7D31"/><rect x="596.00" y="662.00" width="5.8" height="5.8" fill="#ED7D31"/><rect x="599.70" y="655.20" width="5.8" height="5.8" fill="#ED7D31"/><rect x="600.70" y="653.00" width="5.8" height="5.8" fill="#ED7D31"/><rect x="607.10" y="644.60" width="5.8" height="5.8" fill="#ED7D31"/><rect x="614.30" y="651.80" width="5.8" height="5.8" fill="#ED7D31"/><rect x="614.60" y="635.40" width="5.8" height="5.8" fill="#ED7D31"/><rect x="616.30" y="638.10" width="5.8" height="5.8" fill="#ED7D31"/><rect x="523.70" y="697.50" width="5.8" height="5.8" fill="#ED7D31"/>
<g stroke="#C00000" stroke-width="2"><line x1="447.0" y1="559.6" x2="447.0" y2="754.4"/><line x1="389.5" y1="656.7" x2="655.7" y2="656.7"/><line x1="389.5" y1="676.2" x2="655.7" y2="676.2"/></g>
<g font-size="8.0" fill="#303030" stroke="#303030" stroke-width="0.1"><text x="389.50" y="766.6" text-anchor="middle" textLength="14.2" lengthAdjust="spacingAndGlyphs">0,20</text><text x="427.53" y="766.6" text-anchor="middle" textLength="14.2" lengthAdjust="spacingAndGlyphs">0,40</text><text x="465.56" y="766.6" text-anchor="middle" textLength="14.2" lengthAdjust="spacingAndGlyphs">0,60</text><text x="503.59" y="766.6" text-anchor="middle" textLength="14.2" lengthAdjust="spacingAndGlyphs">0,80</text><text x="541.61" y="766.6" text-anchor="middle" textLength="14.2" lengthAdjust="spacingAndGlyphs">1,00</text><text x="579.64" y="766.6" text-anchor="middle" textLength="14.2" lengthAdjust="spacingAndGlyphs">1,20</text><text x="617.67" y="766.6" text-anchor="middle" textLength="14.2" lengthAdjust="spacingAndGlyphs">1,40</text><text x="655.70" y="766.6" text-anchor="middle" textLength="14.2" lengthAdjust="spacingAndGlyphs">1,60</text><text x="381.8" y="756.70" text-anchor="end" textLength="14.2" lengthAdjust="spacingAndGlyphs">0,00</text><text x="381.8" y="737.22" text-anchor="end" textLength="14.2" lengthAdjust="spacingAndGlyphs">0,10</text><text x="381.8" y="717.74" text-anchor="end" textLength="14.2" lengthAdjust="spacingAndGlyphs">0,20</text><text x="381.8" y="698.26" text-anchor="end" textLength="14.2" lengthAdjust="spacingAndGlyphs">0,30</text><text x="381.8" y="678.78" text-anchor="end" textLength="14.2" lengthAdjust="spacingAndGlyphs">0,40</text><text x="381.8" y="659.30" text-anchor="end" textLength="14.2" lengthAdjust="spacingAndGlyphs">0,50</text><text x="381.8" y="639.82" text-anchor="end" textLength="14.2" lengthAdjust="spacingAndGlyphs">0,60</text><text x="381.8" y="620.34" text-anchor="end" textLength="14.2" lengthAdjust="spacingAndGlyphs">0,70</text><text x="381.8" y="600.86" text-anchor="end" textLength="14.2" lengthAdjust="spacingAndGlyphs">0,80</text><text x="381.8" y="581.38" text-anchor="end" textLength="14.2" lengthAdjust="spacingAndGlyphs">0,90</text><text x="381.8" y="561.90" text-anchor="end" textLength="14.2" lengthAdjust="spacingAndGlyphs">1,00</text></g>
<path d="M604.60 723.80L607.20 726.40L604.60 729.00L602.00 726.40Z" fill="#4472C4"/><rect x="602.00" y="738.10" width="5.2" height="5.2" fill="#ED7D31"/>
<g font-size="8.8" fill="#262626" stroke="#262626" stroke-width="0.1"><text x="609.8" y="729.30" textLength="33.4" lengthAdjust="spacingAndGlyphs">February</text><text x="609.8" y="743.60" textLength="14.0" lengthAdjust="spacingAndGlyphs">July</text></g>
<text x="519.0" y="694.0" font-size="7.2" fill="#8c8c8c" text-anchor="middle">R8</text>
<text x="350.0" y="548.0" font-size="15.5" fill="#000" letter-spacing="1.1">f)</text>
<text x="418.0" y="551.6" font-size="8.55" fill="#E8141C" text-anchor="middle">petroleum</text>
<text x="548.5" y="552.6" font-size="8.55" fill="#E8141C" text-anchor="middle">combustion</text>
<text transform="translate(665.20,606.3) rotate(90)" font-size="8.55" fill="#E8141C" text-anchor="middle">combustion</text>
<text transform="translate(676.60,666.5) rotate(90)" font-size="8.55" fill="#E8141C" text-anchor="middle">petroleum</text>
<text transform="translate(665.20,666.5) rotate(90)" font-size="8.55" fill="#E8141C" text-anchor="middle">combustion</text>
<text transform="translate(665.20,720.1) rotate(90)" font-size="8.55" fill="#E8141C" text-anchor="middle">petroleum</text>
<text transform="translate(358.00,653.20) rotate(-90)" font-size="9.0" font-weight="bold" fill="#000" text-anchor="middle" textLength="35.6" lengthAdjust="spacingAndGlyphs">Fl/(Fl+Py)</text>
<g font-size="9.0" font-weight="bold" fill="#000"><text x="481.75" y="782.7" textLength="4.34" lengthAdjust="spacingAndGlyphs" stroke="#000" stroke-width="0.45">C</text><text x="485.75" y="784.60" font-size="5.6" textLength="3.28" lengthAdjust="spacingAndGlyphs">0</text><line x1="489.74" y1="784.00" x2="492.68" y2="776.50" stroke="#000" stroke-width="1.05"/><text x="495.16" y="782.7" text-anchor="middle">(</text><text x="496.43" y="782.7" textLength="4.55" lengthAdjust="spacingAndGlyphs" stroke="#000" stroke-width="0.45">C</text><text x="500.88" y="784.60" font-size="5.6" textLength="3.33" lengthAdjust="spacingAndGlyphs">0</text><text x="504.52" y="782.7" textLength="4.45" lengthAdjust="spacingAndGlyphs">+</text><text x="508.98" y="782.7" textLength="4.45" lengthAdjust="spacingAndGlyphs" stroke="#000" stroke-width="0.45">C</text><text x="513.43" y="784.60" font-size="5.6" textLength="3.33" lengthAdjust="spacingAndGlyphs">1</text><text x="519.05" y="782.7" text-anchor="middle">)</text><text x="523.05" y="782.7" textLength="25.80" lengthAdjust="spacingAndGlyphs">Ph+An</text></g>
</svg>
</body></html>
